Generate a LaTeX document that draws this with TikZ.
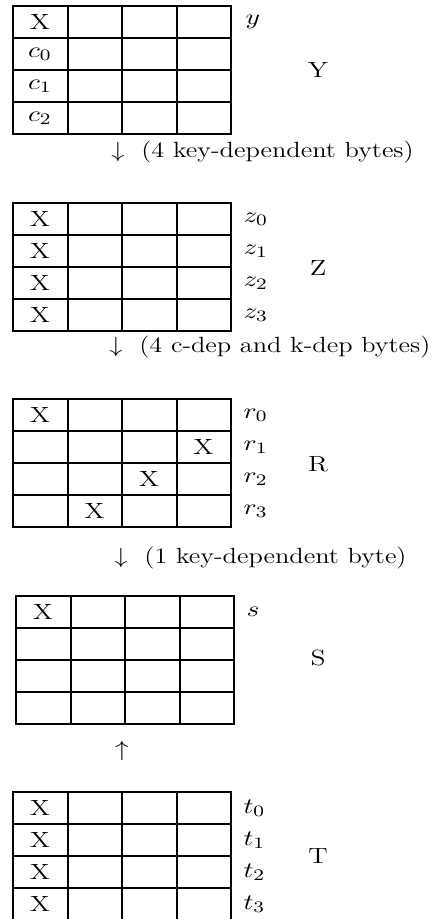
\documentclass[tikz,border=0pt]{standalone}
\usepackage{amsmath, amssymb}
\begin{document}
\begin{tikzpicture}[
        x=0.5pt, y=-0.5pt,
        rule/.style={draw=black, line width=1pt, line cap=rect},
        entry/.style={xscale=1.25, inner sep=0pt, font=\fontsize{11}{13}\selectfont},
        rowlbl/.style={anchor=west, xscale=1.25, inner sep=0pt, font=\fontsize{11}{13}\selectfont},
        tag/.style={xscale=1.25, inner sep=0pt, font=\fontsize{11}{13}\selectfont},
        note/.style={anchor=west, xscale=1.2, inner sep=0pt, font=\fontsize{11}{13}\selectfont}
    ]
        \useasboundingbox (0,0) rectangle (441,919);

        % Grids
        \foreach \gx/\gy in {13/6, 13/203, 13/399, 16/596, 13/792} {
            \foreach \i in {0,...,4} {
                \draw[rule] ({\gx+54.5*\i},\gy) -- ({\gx+54.5*\i},{\gy+128});
                \draw[rule] (\gx,{\gy+32*\i}) -- ({\gx+218},{\gy+32*\i});
            }
        }

        % Y
        \node (yx) at (40, 22) [entry] {X};
        \node (yc0) at (40, 54) [entry] {$c_0$};
        \node (yc1) at (40, 86) [entry] {$c_1$};
        \node (yc2) at (40, 118) [entry] {$c_2$};
        \node (ylbl) at (245, 22) [rowlbl] {$y$};
        \node (ytag) at (318, 70) [tag] {Y};
        \node (note1) at (111, 152) [note] {$\downarrow$\hspace{7pt}(4 key-dependent bytes)};

        % Z
        \node (zx0) at (40, 219) [entry] {X};
        \node (zx1) at (40, 251) [entry] {X};
        \node (zx2) at (40, 283) [entry] {X};
        \node (zx3) at (40, 315) [entry] {X};
        \node (zl0) at (243, 219) [rowlbl] {$z_0$};
        \node (zl1) at (243, 251) [rowlbl] {$z_1$};
        \node (zl2) at (243, 283) [rowlbl] {$z_2$};
        \node (zl3) at (243, 315) [rowlbl] {$z_3$};
        \node (ztag) at (318, 268) [tag] {Z};
        \node (note2) at (109, 347) [note] {$\downarrow$\hspace{7pt}(4 c-dep and k-dep bytes)};

        % R
        \node (rx0) at (40, 415) [entry] {X};
        \node (rx1) at (203.5, 447) [entry] {X};
        \node (rx2) at (149, 479) [entry] {X};
        \node (rx3) at (94.5, 511) [entry] {X};
        \node (rl0) at (243, 415) [rowlbl] {$r_0$};
        \node (rl1) at (243, 447) [rowlbl] {$r_1$};
        \node (rl2) at (243, 479) [rowlbl] {$r_2$};
        \node (rl3) at (243, 511) [rowlbl] {$r_3$};
        \node (rtag) at (318, 464) [tag] {R};
        \node (note3) at (114, 558) [note] {$\downarrow$\hspace{7pt}(1 key-dependent byte)};

        % S
        \node (sx) at (43, 612) [entry] {X};
        \node (slbl) at (246, 612) [rowlbl] {$s$};
        \node (stag) at (318, 658) [tag] {S};
        \node (up) at (122, 751) [entry] {$\uparrow$};

        % T
        \node (tx0) at (40, 808) [entry] {X};
        \node (tx1) at (40, 840) [entry] {X};
        \node (tx2) at (40, 872) [entry] {X};
        \node (tx3) at (40, 904) [entry] {X};
        \node (tl0) at (243, 808) [rowlbl] {$t_0$};
        \node (tl1) at (243, 840) [rowlbl] {$t_1$};
        \node (tl2) at (243, 872) [rowlbl] {$t_2$};
        \node (tl3) at (243, 904) [rowlbl] {$t_3$};
        \node (ttag) at (318, 856) [tag] {T};

    \end{tikzpicture}
\end{document}
